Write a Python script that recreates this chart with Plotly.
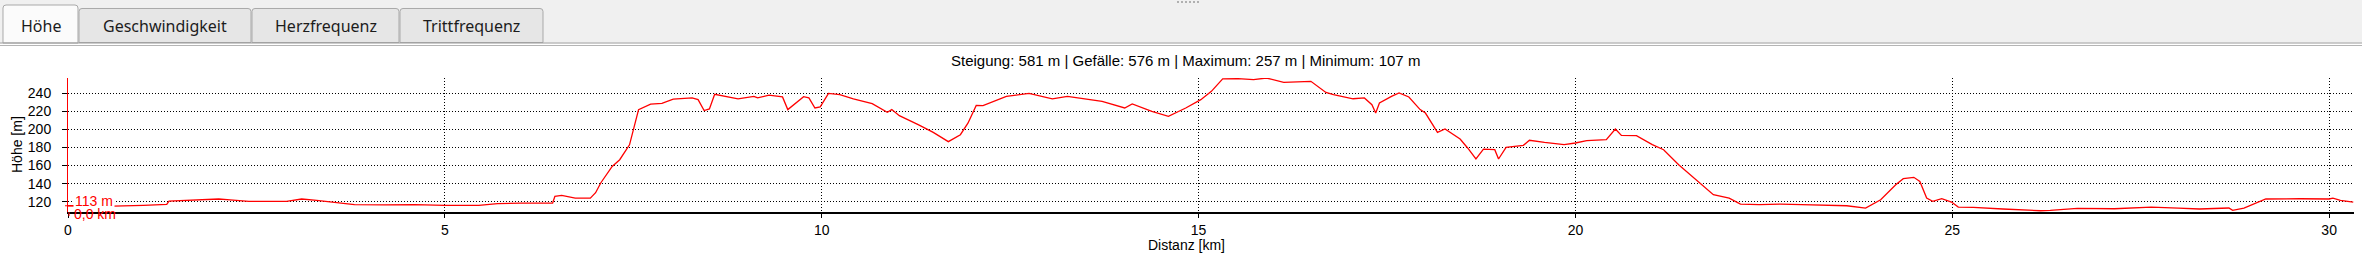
import plotly.graph_objects as go

# ---------------- data ----------------
dist_km = [0.0, 0.3, 0.6, 1.0, 1.31, 1.34, 1.6, 2.0, 2.15, 2.4, 2.9, 3.1, 3.3, 3.5, 3.8,
           4.2, 4.6, 5.0, 5.45, 5.7, 6.0, 6.43, 6.46, 6.55, 6.73, 6.93, 7.0, 7.07, 7.22,
           7.32, 7.45, 7.57, 7.73, 7.88, 8.03, 8.28, 8.36, 8.44, 8.51, 8.58, 8.89, 9.1,
           9.15, 9.3, 9.48, 9.55, 9.76, 9.83, 9.91, 9.98, 10.09, 10.24, 10.42, 10.67,
           10.87, 10.93, 11.03, 11.28, 11.48, 11.68, 11.84, 11.94, 12.05, 12.14, 12.45,
           12.75, 13.06, 13.26, 13.46, 13.72, 14.02, 14.12, 14.38, 14.6, 14.83, 15.03,
           15.17, 15.32, 15.52, 15.73, 15.9, 16.13, 16.49, 16.69, 16.79, 17.05, 17.2,
           17.3, 17.35, 17.4, 17.56, 17.66, 17.79, 17.94, 18.01, 18.17, 18.27, 18.47,
           18.57, 18.68, 18.78, 18.93, 18.98, 19.08, 19.31, 19.39, 19.59, 19.85, 20.0,
           20.15, 20.41, 20.53, 20.61, 20.81, 21.02, 21.17, 21.37, 21.63, 21.83, 22.04,
           22.19, 22.44, 22.72, 23.0, 23.22, 23.6, 23.85, 23.95, 24.05, 24.25, 24.35,
           24.49, 24.57, 24.66, 24.74, 24.86, 24.99, 25.08, 25.28, 25.67, 26.17, 26.3,
           26.66, 27.15, 27.64, 28.0, 28.28, 28.67, 28.72, 28.87, 29.16, 29.61, 30.0,
           30.05, 30.15, 30.32]
elev_m = [115.5, 115, 115, 116, 117, 120.7, 121.5, 123, 122, 120.4, 120.4, 123, 121.5,
          119.3, 116.7, 116.5, 116.7, 116, 116, 117.8, 118.5, 118.5, 126, 127, 124, 124,
          130, 141, 159, 166.5, 183, 222, 228, 229, 233.7, 235, 233, 221, 222.7, 239, 234,
          236.7, 235, 238, 236, 222, 236.3, 235, 223.8, 225, 240, 238.5, 234, 228.6, 219,
          222, 215.3, 205.3, 196.8, 186.5, 194.2, 207, 226.7, 226.4, 236.7, 240, 234,
          236.7, 234, 231, 223.8, 228.2, 220, 214.6, 223.8, 233, 242.2, 256, 256.3, 255.2,
          257, 252.2, 253.3, 241, 238.5, 234, 234.9, 227.5, 218.2, 229.4, 236.7, 240.4,
          236, 222, 218.2, 196.8, 200.5, 189.4, 179.5, 167.3, 178.3, 177.6, 167.3, 180.2,
          182.4, 188, 185.7, 183.2, 185, 187.6, 188.7, 200.5, 193.5, 193.1, 183.2, 177.6,
          161, 142.5, 127.8, 124, 117.4, 116.7, 117.4, 116.7, 116, 115.5, 113, 117.8, 122.2,
          138.8, 145.5, 147, 142.5, 124, 120.4, 123.3, 119.6, 114.1, 113.7, 111.9, 110,
          110.5, 112.6, 112.2, 114.1, 113, 111.9, 113, 110.4, 113, 123, 123.3, 123, 124,
          121.5, 119.6]

x_ticks = [0, 5, 10, 15, 20, 25, 30]
x_ticklabels = ["0", "5", "10", "15", "20", "25", "30"]
y_ticks = [120, 140, 160, 180, 200, 220, 240]
y_ticklabels = ["120", "140", "160", "180", "200", "220", "240"]
x_range = [0, 30.33]
y_range = [108.6, 257]

tabs = ["Höhe", "Geschwindigkeit", "Herzfrequenz", "Trittfrequenz"]
title_text = "Steigung: 581 m | Gefälle: 576 m | Maximum: 257 m | Minimum: 107 m"
x_title = "Distanz [km]"
y_title = "Höhe [m]"
cursor_elev_label = "113 m"
cursor_dist_label = "0,0 km"

# ---------------- layout geometry ----------------
W, H = 2362, 258
L, R, T, B = 68, 8, 78, 46
PW, PH = W - L - R, H - T - B


def px(x):
    return (x - L) / PW


def py(y):
    return (H - B - y) / PH


FONT = "Liberation Sans, Arial, sans-serif"
TABFONT = "Noto Sans, sans-serif"

fig = go.Figure()
fig.add_trace(go.Scatter(x=dist_km, y=elev_m, mode="lines",
                         line=dict(color="#ff0000", width=1.3),
                         hoverinfo="skip", showlegend=False))

grid_dash = "1px,2px"
fig.update_layout(
    width=W, height=H,
    margin=dict(l=L, r=R, t=T, b=B, pad=0),
    paper_bgcolor="white", plot_bgcolor="white",
    showlegend=False,
    xaxis=dict(range=x_range, tickvals=x_ticks, ticktext=x_ticklabels,
               ticks="outside", ticklen=4, tickcolor="black", tickwidth=1,
               showline=True, linecolor="black", linewidth=2,
               showgrid=True, gridcolor="black", gridwidth=1, griddash=grid_dash,
               zeroline=False, tickfont=dict(family=FONT, size=14, color="black")),
    yaxis=dict(range=y_range, tickvals=y_ticks, ticktext=y_ticklabels,
               ticks="outside", ticklen=5, tickcolor="black", tickwidth=1,
               showline=True, linecolor="#ff0000", linewidth=1,
               showgrid=True, gridcolor="black", gridwidth=1, griddash=grid_dash,
               zeroline=False, ticklabelstandoff=8,
               tickfont=dict(family=FONT, size=14, color="black")),
)

shapes = []
# top tab strip background
shapes.append(dict(type="rect", xref="paper", yref="paper", x0=px(0), x1=px(W),
                   y0=py(42.5), y1=py(0), fillcolor="#f0f0f0", line=dict(width=0)))


def tab_path(x0, x1, y0, y1, r=3):
    pts = [
        ("M", px(x0), py(y1)),
        ("L", px(x0), py(y0 + r)),
        ("Q", px(x0), py(y0), px(x0 + r), py(y0)),
        ("L", px(x1 - r), py(y0)),
        ("Q", px(x1), py(y0), px(x1), py(y0 + r)),
        ("L", px(x1), py(y1)),
    ]
    out = []
    for p in pts:
        coords = p[1:]
        pairs = [f"{coords[i]:.6f},{coords[i + 1]:.6f}" for i in range(0, len(coords), 2)]
        out.append(p[0] + " " + " ".join(pairs))
    return " ".join(out) + " Z"


tab_edges = [(3, 78), (79, 251), (252, 399), (400, 543)]
for i, (a, b) in enumerate(tab_edges):
    if i == 0:
        continue
    shapes.append(dict(type="path", xref="paper", yref="paper",
                       path=tab_path(a, b, 8.5, 42.5),
                       fillcolor="#e6e6e6", line=dict(color="#a9a9a9", width=1)))
a, b = tab_edges[0]
shapes.append(dict(type="path", xref="paper", yref="paper",
                   path=tab_path(a, b, 5, 43),
                   fillcolor="#fbfbfb", line=dict(color="#a9a9a9", width=1)))
# separator lines under the tabs
shapes.append(dict(type="line", xref="paper", yref="paper", x0=px(0), x1=px(W),
                   y0=py(43), y1=py(43), line=dict(color="#9a9a9a", width=1)))
shapes.append(dict(type="line", xref="paper", yref="paper", x0=px(0), x1=px(W),
                   y0=py(45.5), y1=py(45.5), line=dict(color="#b5b5b5", width=1)))
# small resize grip at top centre
for k in range(6):
    gx = 1177 + 4 * k
    shapes.append(dict(type="rect", xref="paper", yref="paper",
                       x0=px(gx), x1=px(gx + 2), y0=py(3), y1=py(1),
                       fillcolor="#b0b0b0", line=dict(width=0)))
# cursor marker at the start of the track
shapes.append(dict(type="line", xref="paper", yref="y", x0=px(65), x1=px(75),
                   y0=elev_m[0], y1=elev_m[0], line=dict(color="#ff0000", width=1)))
shapes.append(dict(type="line", xref="paper", yref="paper", x0=px(69), x1=px(69),
                   y0=py(212), y1=py(216), line=dict(color="#ff0000", width=1)))
fig.update_layout(shapes=shapes)

ann = []
tab_centers = [40.5, 165, 325.5, 471.5]
for t, c in zip(tabs, tab_centers):
    ann.append(dict(text=t, x=px(c), y=py(26), xref="paper", yref="paper",
                    showarrow=False, xanchor="center", yanchor="middle",
                    font=dict(family=TABFONT, size=16, color="#1c1c1c")))
ann.append(dict(text=title_text, x=px(1185), y=py(60), xref="paper", yref="paper",
                showarrow=False, xanchor="center", yanchor="middle",
                font=dict(family=FONT, size=15, color="black")))
ann.append(dict(text=x_title, x=px(1186), y=py(244.5), xref="paper", yref="paper",
                showarrow=False, xanchor="center", yanchor="middle", borderpad=0,
                font=dict(family=FONT, size=14, color="black")))
ann.append(dict(text=y_title, x=px(17), y=py(145), xref="paper", yref="paper",
                showarrow=False, xanchor="center", yanchor="middle", textangle=-90,
                font=dict(family=FONT, size=14, color="black")))
ann.append(dict(text=cursor_elev_label, x=px(73), y=py(201), xref="paper", yref="paper",
                showarrow=False, xanchor="left", yanchor="middle", bgcolor="white",
                borderpad=1, font=dict(family=FONT, size=14, color="#ff0000")))
ann.append(dict(text=cursor_dist_label, x=px(72), y=py(213.5), xref="paper", yref="paper",
                showarrow=False, xanchor="left", yanchor="middle",
                font=dict(family=FONT, size=14, color="#ff0000")))
fig.update_layout(annotations=ann)

fig.write_html("out.html")
